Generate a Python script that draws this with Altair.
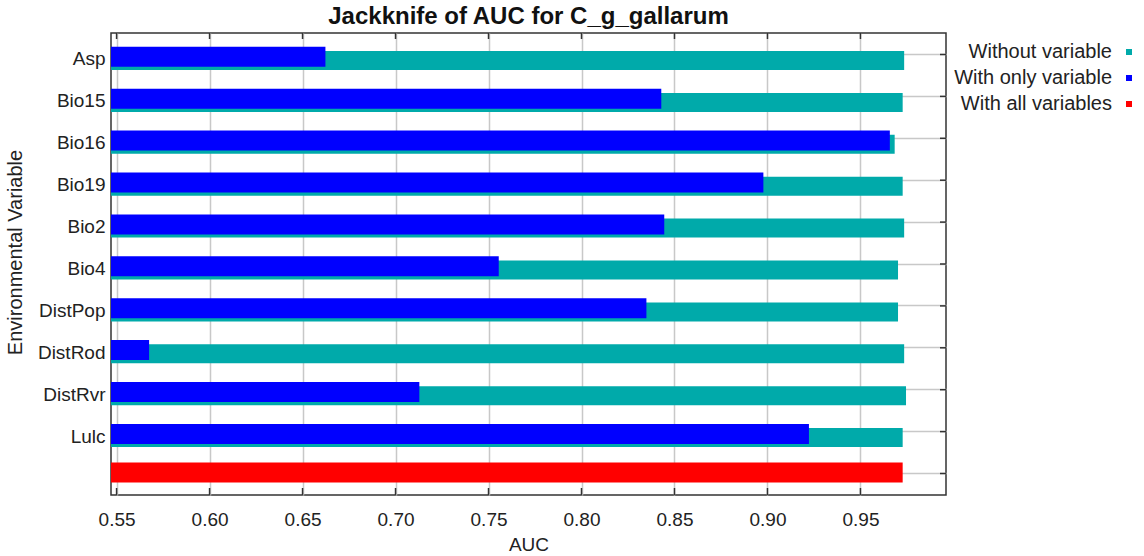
import altair as alt
import pandas as pd

# Jackknife test of variable importance (AUC) for C_g_gallarum
variables = ["Asp", "Bio15", "Bio16", "Bio19", "Bio2", "Bio4",
             "DistPop", "DistRod", "DistRvr", "Lulc"]
auc_without = [0.9735, 0.9727, 0.9684, 0.9727, 0.9735, 0.9702,
               0.9702, 0.9735, 0.9745, 0.9727]
auc_with_only = [0.6623, 0.8429, 0.9658, 0.8978, 0.8445, 0.7555,
                 0.8349, 0.5675, 0.7128, 0.9223]
auc_all = 0.9727

series_names = ["Without variable", "With only variable", "With all variables"]
series_colors = ["#00AAAA", "#0000FF", "#FF0000"]

x_ticks = [0.55, 0.60, 0.65, 0.70, 0.75, 0.80, 0.85, 0.90, 0.95]
x_min, x_max = 0.547, 0.996

ALL_ROW = "all"
rows = variables + [ALL_ROW]

FONT = "Liberation Sans"
W, H = 835, 462

records = []
for v, w, wo in zip(variables, auc_without, auc_with_only):
    records.append({"row": v, "series": series_names[0], "auc": w})
    records.append({"row": v, "series": series_names[1], "auc": wo})
records.append({"row": ALL_ROW, "series": series_names[2], "auc": auc_all})
df = pd.DataFrame(records)

# same field names as the bars so the layers share one pair of axes
ticks_df = pd.DataFrame({"auc": x_ticks})
rows_df = pd.DataFrame({"row": rows})

x_scale = alt.Scale(domain=[x_min, x_max], nice=False, zero=False)
y_scale = alt.Scale(domain=rows, paddingInner=0, paddingOuter=0.013)

x_enc = alt.X(
    "auc:Q",
    scale=x_scale,
    axis=alt.Axis(
        values=x_ticks, format=".2f", title="AUC", grid=True, ticks=False,
        domain=False, labelPadding=15, titlePadding=6,
    ),
)
y_enc = alt.Y(
    "row:N",
    sort=rows,
    scale=y_scale,
    axis=alt.Axis(
        title="Environmental Variable", grid=True, ticks=False, domain=False,
        labelPadding=6, labelOffset=5, titlePadding=12, titleY=219,
        titleFontSize=20,
        labelExpr=f"datum.value == '{ALL_ROW}' ? '' : datum.value",
    ),
)
# legend labels sit to the left of their swatches
color_enc = alt.Color(
    "series:N",
    scale=alt.Scale(domain=series_names, range=series_colors),
    legend=alt.Legend(
        title=None, orient="none", legendX=1008, legendY=9,
        symbolType="square", symbolSize=36, symbolStrokeWidth=0,
        labelAlign="right", labelOffset=alt.ExprRef(expr="-27"),
        labelFontSize=20, labelFont=FONT, labelColor="#222222",
        rowPadding=6, labelLimit=400,
    ),
)

base = alt.Chart(df)

without_bars = base.transform_filter(
    alt.datum.series == series_names[0]
).mark_bar(height=19, yOffset=6).encode(
    x=x_enc, x2=alt.datum(x_min), y=y_enc, color=color_enc
)
only_bars = base.transform_filter(
    alt.datum.series == series_names[1]
).mark_bar(height=20, yOffset=2.3).encode(
    x=x_enc, x2=alt.datum(x_min), y=y_enc, color=color_enc
)
all_bar = base.transform_filter(
    alt.datum.series == series_names[2]
).mark_bar(height=20, yOffset=-1).encode(
    x=x_enc, x2=alt.datum(x_min), y=y_enc, color=color_enc
)

# inward tick marks along the top, bottom and right frame edges
tick_color = "#333333"
top_ticks = alt.Chart(ticks_df).mark_rule(color=tick_color, strokeWidth=1.5).encode(
    x=x_enc, y=alt.value(0), y2=alt.value(6),
)
bottom_ticks = alt.Chart(ticks_df).mark_rule(color=tick_color, strokeWidth=1.5).encode(
    x=x_enc, y=alt.value(H - 7), y2=alt.value(H),
)
right_ticks = alt.Chart(rows_df).mark_rule(color=tick_color, strokeWidth=1.5).encode(
    y=y_enc, x=alt.value(W - 6), x2=alt.value(W),
)

chart = alt.layer(
    without_bars, only_bars, all_bar, top_ticks, bottom_ticks, right_ticks
).properties(
    width=W,
    height=H,
    background="white",
    title=alt.TitleParams(
        "Jackknife of AUC for C_g_gallarum", font=FONT, fontSize=24,
        fontWeight="bold", anchor="middle", offset=3, color="#111111",
    ),
).configure_view(
    stroke="#333333", strokeWidth=1.5
).configure_axis(
    labelFont=FONT, titleFont=FONT, labelFontSize=19, titleFontSize=19,
    labelColor="#222222", titleColor="#222222", titleFontWeight="normal",
    gridColor="#C8C8C8", gridWidth=1.5,
)

chart.save("out.html", embed_options={"renderer": "svg", "actions": False})
